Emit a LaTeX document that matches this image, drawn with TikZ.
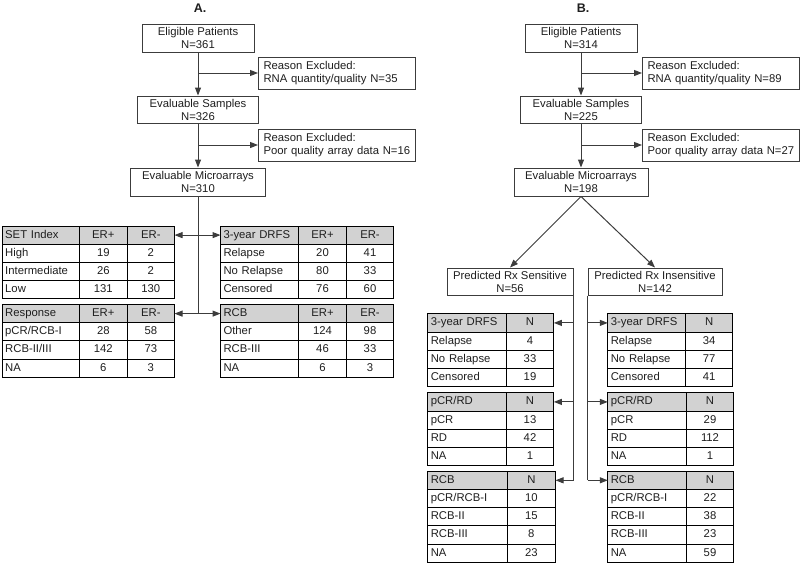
\documentclass[tikz,border=0pt]{standalone}
\usepackage{fontspec}
\setmainfont{Liberation Sans}
\usetikzlibrary{matrix,arrows.meta}
\definecolor{linegray}{HTML}{3C3C3C}
\definecolor{headgray}{HTML}{D2D2D2}
\definecolor{textgray}{HTML}{1E1E1E}
\tikzset{
  every node/.style={text=textgray, font=\fontsize{11.3}{13}\selectfont},
  box/.style={draw, align=center, inner sep=1pt},
  exbox/.style={draw, align=left, anchor=west, inner xsep=5pt, text width=147pt, minimum height=32pt},
  tblbase/.style={matrix of nodes, anchor=north west, inner sep=0pt, outer sep=0pt,
    row sep=-1pt, column sep=-1pt,
    nodes={draw, inner xsep=3pt, inner ysep=0pt, minimum height=18.2pt,
      text height=8.2pt, text depth=2.4pt},
    row 1/.style={nodes={fill=headgray}}},
  tbl/.style n args={3}{tblbase,
    column 1/.style={nodes={text width=#1, align=left}},
    column 2/.style={nodes={minimum width=#2}},
    column 3/.style={nodes={minimum width=#3}}},
  tbltwo/.style n args={2}{tblbase,
    column 1/.style={nodes={text width=#1, align=left}},
    column 2/.style={nodes={minimum width=#2}}},
}
\begin{document}
\begin{tikzpicture}[x=1pt, y=-1pt, line width=1pt, color=linegray,
  >={Triangle[length=8pt,width=6pt]}]
\useasboundingbox (0,0) rectangle (800,562);

% A. flow
\node[font=\bfseries\fontsize{12.5}{14}\selectfont] (labA) at (200,8) {A.};
\node[box, minimum width=112pt, minimum height=28pt] (elA) at (198,38) {Eligible Patients\\N=361};
\node[exbox] (rexA1) at (258,73) {Reason Excluded:\\RNA quantity/quality N=35};
\node[box, minimum width=121pt, minimum height=27pt] (sampA) at (198,109.5) {Evaluable Samples\\N=326};
\node[exbox] (rexA2) at (258,145) {Reason Excluded:\\Poor quality array data N=16};
\node[box, minimum width=135pt, minimum height=28pt] (microA) at (198,182) {Evaluable Microarrays\\N=310};

\draw[->] (elA) -- (sampA);
\draw[->] (sampA) -- (microA);
\draw[->] (elA.south |- rexA1.west) -- (rexA1.west);
\draw[->] (sampA.south |- rexA2.west) -- (rexA2.west);

% A. tables
\matrix[tbl={71.3pt}{47.7pt}{47.3pt}] (setA) at (1.7,225.5) {
  SET Index & ER+ & ER- \\
  High & 19 & 2 \\
  Intermediate & 26 & 2 \\
  Low & 131 & 130 \\
};
\matrix[tbl={72.3pt}{47.4pt}{47.6pt}] (drfsA) at (220,225.5) {
  3-year DRFS & ER+ & ER- \\
  Relapse & 20 & 41 \\
  No Relapse & 80 & 33 \\
  Censored & 76 & 60 \\
};
\matrix[tbl={71.3pt}{47.7pt}{47.3pt}] (respA) at (1.7,304) {
  Response & ER+ & ER- \\
  pCR/RCB-I & 28 & 58 \\
  RCB-II/III & 142 & 73 \\
  NA & 6 & 3 \\
};
\matrix[tbl={72.3pt}{47.4pt}{47.6pt}] (rcbA) at (220,304) {
  RCB & ER+ & ER- \\
  Other & 124 & 98 \\
  RCB-III & 46 & 33 \\
  NA & 6 & 3 \\
};

\draw (microA.south) -- (microA.south |- respA-1-3.east);
\draw[<->] (setA-1-3.east) -- (drfsA-1-1.west);
\draw[<->] (respA-1-3.east) -- (rcbA-1-1.west);

% B. flow
\node[font=\bfseries\fontsize{12.5}{14}\selectfont] (labB) at (583,8) {B.};
\node[box, minimum width=112pt, minimum height=28pt] (elB) at (581,38) {Eligible Patients\\N=314};
\node[exbox] (rexB1) at (642,73) {Reason Excluded:\\RNA quantity/quality N=89};
\node[box, minimum width=121pt, minimum height=27pt] (sampB) at (581,109.5) {Evaluable Samples\\N=225};
\node[exbox] (rexB2) at (642,145) {Reason Excluded:\\Poor quality array data N=27};
\node[box, minimum width=134pt, minimum height=28pt] (microB) at (581,182) {Evaluable Microarrays\\N=198};
\node[box, minimum width=126pt, minimum height=27pt] (sensB) at (510,281.5) {Predicted Rx Sensitive\\N=56};
\node[box, minimum width=134pt, minimum height=27pt] (insB) at (655,281.5) {Predicted Rx Insensitive\\N=142};

\draw[->] (elB) -- (sampB);
\draw[->] (sampB) -- (microB);
\draw[->] (elB.south |- rexB1.west) -- (rexB1.west);
\draw[->] (sampB.south |- rexB2.west) -- (rexB2.west);
\draw[->] (microB.south) -- (sensB.north);
\draw[->] (microB.south) -- (insB.north);

% B. tables
\matrix[tbltwo={72.4pt}{47.6pt}] (sdrfsB) at (427.3,313.3) {
  3-year DRFS & N \\
  Relapse & 4 \\
  No Relapse & 33 \\
  Censored & 19 \\
};
\matrix[tbltwo={72.4pt}{47.6pt}] (spcrB) at (427.3,392.3) {
  pCR/RD & N \\
  pCR & 13 \\
  RD & 42 \\
  NA & 1 \\
};
\matrix[tbltwo={73.4pt}{48.3pt}] (srcbB) at (427.3,470.7) {
  RCB & N \\
  pCR/RCB-I & 10 \\
  RCB-II & 15 \\
  RCB-III & 8 \\
  NA & 23 \\
};
\matrix[tbltwo={71.7pt}{47.3pt}] (idrfsB) at (607.3,313.3) {
  3-year DRFS & N \\
  Relapse & 34 \\
  No Relapse & 77 \\
  Censored & 41 \\
};
\matrix[tbltwo={72.4pt}{47.6pt}] (ipcrB) at (607.3,392.3) {
  pCR/RD & N \\
  pCR & 29 \\
  RD & 112 \\
  NA & 1 \\
};
\matrix[tbltwo={72.4pt}{47.6pt}] (ircbB) at (607.3,470.7) {
  RCB & N \\
  pCR/RCB-I & 22 \\
  RCB-II & 38 \\
  RCB-III & 23 \\
  NA & 59 \\
};

\draw (sensB.south east) -- (sensB.south east |- srcbB-1-2.east);
\draw[->] (sensB.south east |- sdrfsB-1-2.east) -- (sdrfsB-1-2.east);
\draw[->] (sensB.south east |- spcrB-1-2.east) -- (spcrB-1-2.east);
\draw[->] (sensB.south east |- srcbB-1-2.east) -- (srcbB-1-2.east);
\draw (insB.south west) -- (insB.south west |- ircbB-1-1.west);
\draw[->] (insB.south west |- idrfsB-1-1.west) -- (idrfsB-1-1.west);
\draw[->] (insB.south west |- ipcrB-1-1.west) -- (ipcrB-1-1.west);
\draw[->] (insB.south west |- ircbB-1-1.west) -- (ircbB-1-1.west);
\end{tikzpicture}
\end{document}
